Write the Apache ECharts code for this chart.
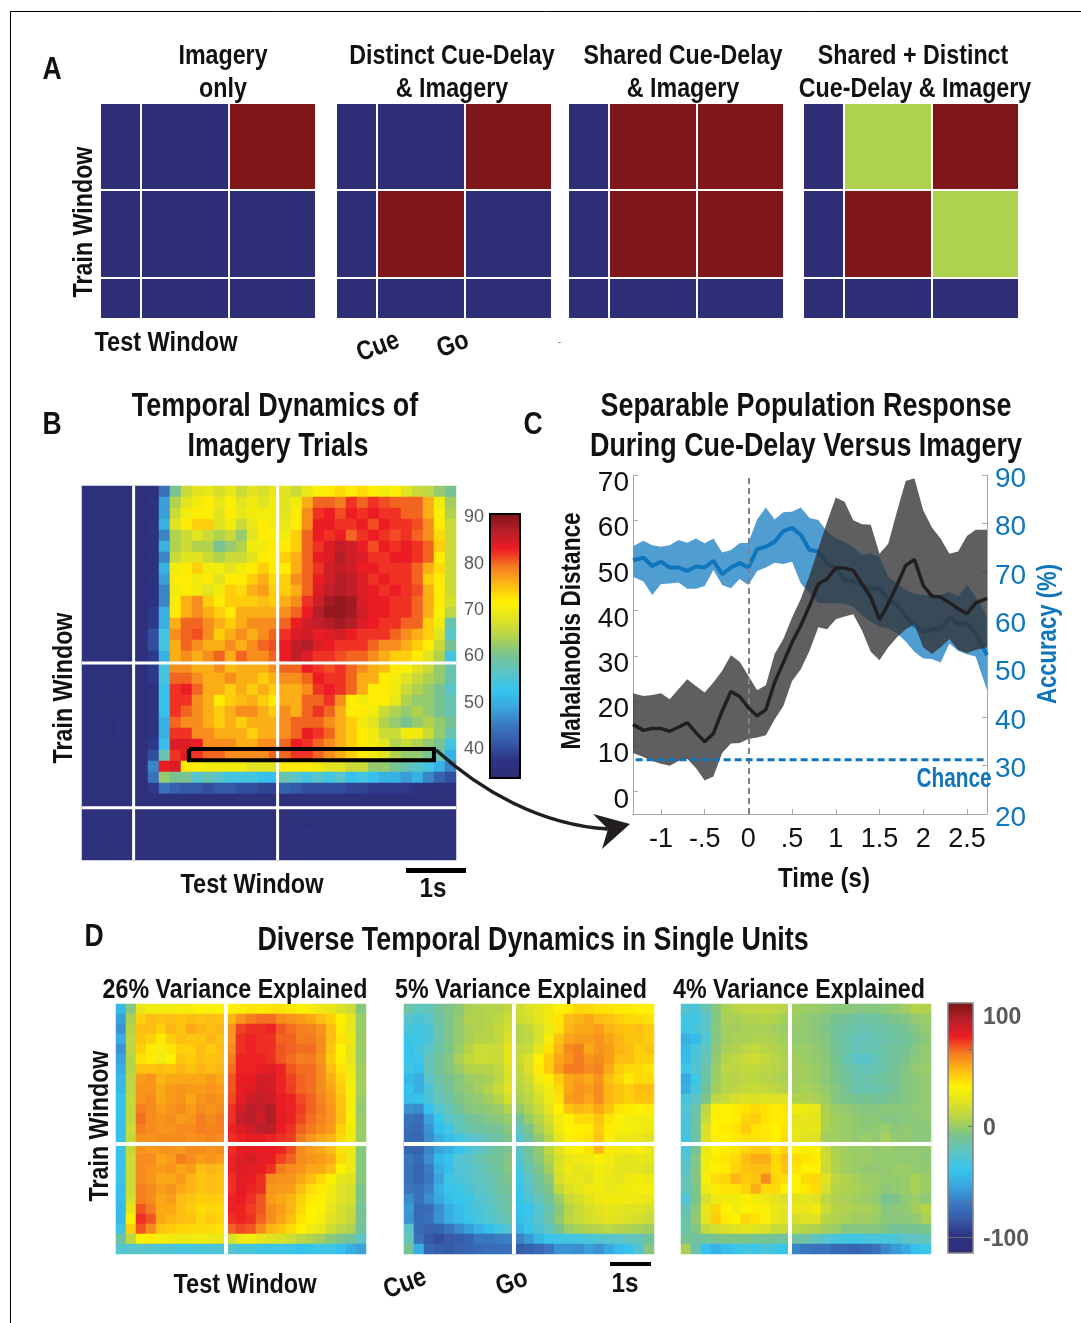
<!DOCTYPE html>
<html>
<head>
<meta charset="utf-8">
<title>Temporal dynamics</title>
<style>
	html, body { margin: 0; padding: 0; background: #fff; }
	#chart { width: 1081px; height: 1323px; }
</style>
<script src="https://cdn.jsdelivr.net/npm/echarts@6/dist/echarts.min.js"></script>
</head>
<body>
<div id="chart"></div>
<script>
/* panel A: hypothesis tables, 0 navy / 1 dark red / 2 green */
var windowColEdges = [0, 0.187, 0.598, 1];
var windowRowEdges = [0, 0.402, 0.813, 1];
var patternOnly = [[0, 0, 1], [0, 0, 0], [0, 0, 0]];
var patternDistinct = [[0, 0, 1], [0, 1, 0], [0, 0, 0]];
var patternShared = [[0, 1, 1], [0, 1, 1], [0, 0, 0]];
var patternBoth = [[0, 2, 1], [0, 1, 2], [0, 0, 0]];

/* panel B: accuracy, train (rows) by test (columns) */
var imageryAccuracy = [
	[35,35,35,35,35,35,36,44,60,66,68,69,67,69,66,68,67,69,68,66,69,71,72,73,72,73,72,70,71,68,66,65,62,60],
	[35,35,35,35,35,35,37,48,64,68,70,72,69,71,68,70,68,70,68,70,76,80,80,79,82,80,82,81,80,80,80,76,70,63],
	[35,35,35,35,35,35,36,48,66,70,72,71,68,72,69,70,70,70,68,72,78,82,83,81,83,82,83,82,82,80,80,76,71,64],
	[35,35,35,35,35,35,37,50,68,72,74,74,68,70,66,69,72,70,69,72,78,83,83,82,82,83,81,83,82,82,81,78,72,66],
	[35,35,35,35,35,35,37,46,64,66,68,66,64,66,62,68,72,71,70,74,80,83,82,83,80,82,83,82,81,82,80,78,73,66],
	[35,35,35,35,35,36,36,50,64,66,64,64,60,62,64,70,70,72,72,74,80,82,84,86,85,83,81,83,82,83,82,80,74,66],
	[35,35,35,35,35,35,37,46,66,68,68,66,64,66,66,68,72,72,74,76,80,83,84,87,85,84,82,82,83,83,82,80,72,66],
	[35,35,35,35,35,35,36,50,70,72,74,70,70,68,70,72,74,72,72,76,80,82,85,86,85,83,83,82,82,82,80,76,73,66],
	[35,35,35,35,35,35,37,48,72,72,70,72,68,72,72,74,76,73,74,78,80,83,85,87,86,84,82,83,82,82,80,74,72,66],
	[35,35,35,35,35,36,37,46,70,72,70,68,70,74,73,76,77,74,74,76,80,84,86,87,86,84,83,82,83,82,81,76,72,66],
	[35,35,35,35,35,35,37,46,72,76,78,74,72,74,74,74,75,74,76,78,82,85,88,89,88,84,83,83,82,82,80,76,72,67],
	[35,35,35,35,35,35,38,50,72,76,78,76,74,72,76,76,76,76,78,80,83,87,89,89,88,85,83,83,82,82,80,76,71,65],
	[35,35,35,35,35,35,38,50,76,80,80,78,76,74,76,78,78,78,80,83,85,86,87,88,87,84,83,82,82,80,80,74,70,58],
	[35,35,35,35,35,36,40,54,78,80,81,78,74,76,78,76,78,80,82,84,85,83,84,85,83,82,82,82,80,78,76,74,68,56],
	[36,35,35,35,35,35,40,54,76,80,78,76,76,78,76,78,80,81,83,86,87,84,83,82,82,82,80,78,78,76,74,72,66,60],
	[35,35,35,35,35,35,38,50,76,78,76,78,80,76,80,78,78,80,83,86,84,82,82,81,80,80,78,76,74,74,72,68,64,54],
	[35,35,35,35,35,35,38,54,78,78,76,76,78,75,76,76,76,78,80,80,83,82,81,82,80,78,76,75,72,71,68,66,62,58],
	[35,35,35,35,35,35,38,54,80,80,78,76,76,78,76,76,74,76,78,78,80,83,82,82,80,76,76,72,70,68,66,64,62,58],
	[35,35,35,36,35,35,37,52,82,83,80,76,76,74,76,74,76,74,76,76,78,82,83,82,80,76,72,72,70,66,64,62,60,56],
	[35,35,35,35,35,35,37,52,82,82,78,76,72,74,75,76,74,72,76,76,80,80,82,78,72,70,72,72,69,64,62,62,60,58],
	[35,35,35,35,35,35,37,52,82,80,78,76,74,76,78,78,76,74,78,76,80,82,80,76,72,72,70,66,64,62,64,62,60,58],
	[35,35,35,37,35,35,37,50,80,78,78,76,74,76,74,76,76,76,78,80,80,80,78,76,74,70,68,64,62,60,62,64,62,60],
	[35,35,35,37,35,35,37,50,82,82,78,78,76,76,76,74,76,76,78,80,83,82,80,76,74,72,70,66,66,70,70,66,62,58],
	[35,35,35,35,35,35,38,52,84,84,83,78,78,78,76,76,78,78,80,83,82,80,78,76,74,72,70,68,64,66,64,62,60,54],
	[35,35,35,35,35,35,40,58,82,84,82,80,80,78,78,78,78,80,80,82,82,80,78,76,74,72,70,68,64,62,62,60,58,50],
	[35,35,35,35,35,35,46,83,84,72,72,70,70,70,70,68,68,68,72,72,72,70,68,68,66,66,62,62,60,58,56,54,50,46],
	[35,35,35,35,35,35,44,62,60,60,56,58,56,54,54,54,52,52,58,56,54,56,54,56,52,54,52,50,50,48,50,46,42,40],
	[35,35,35,35,35,35,38,44,42,41,41,40,41,41,40,40,39,39,42,41,40,40,40,40,39,39,38,38,38,38,37,36,35,35],
	[35,35,35,35,35,35,35,35,35,35,35,35,35,35,35,35,35,35,35,35,35,35,35,35,35,35,35,35,35,35,35,35,35,35],
	[35,35,35,35,35,35,35,35,36,35,35,35,35,35,35,35,35,35,35,35,36,35,35,35,35,35,35,35,35,35,35,35,35,35],
	[35,35,36,35,35,35,35,35,35,35,35,35,35,35,35,35,35,35,35,35,35,35,35,35,35,35,35,35,35,35,35,35,35,35],
	[35,35,35,35,35,35,35,35,35,35,35,35,35,35,35,35,35,35,35,35,37,35,35,35,35,35,35,35,35,35,35,35,35,35],
	[35,35,35,36,35,35,35,35,35,35,35,35,35,35,35,35,35,35,35,35,35,35,35,35,35,35,35,35,35,35,35,35,35,35],
	[35,35,35,35,35,35,35,35,35,35,35,35,35,35,35,35,35,35,35,35,35,35,35,35,35,35,35,35,35,35,35,35,35,35]
];
var imageryColEdges = [0.138, 0.523];
var imageryRowEdges = [0.473, 0.86];
var boxCols = [0.286, 0.941];
var boxRows = [0.703, 0.733];
var imageryTicks = [40, 50, 60, 70, 80, 90];

/* panel C */
var timeSec = [-1.32,-1.2,-1.1,-1,-0.9,-0.8,-0.7,-0.6,-0.5,-0.4,-0.3,-0.2,-0.1,0,0.1,0.2,0.3,0.4,0.5,0.6,0.7,0.8,0.9,1,1.1,1.2,1.3,1.4,1.5,1.6,1.7,1.8,1.9,2,2.1,2.2,2.3,2.4,2.5,2.6,2.73];
var distMean = [14.8,13.5,13.9,13.9,13.3,14.2,15.2,13,11,12.8,17.8,22.1,21,18.5,16.7,18.1,24.1,28.5,33,36.7,41.1,45.9,47,49.4,49.4,48.9,45.9,43,38,41.5,45.6,50,51.3,45.6,43.2,43,41.7,40.4,39.3,41.7,42.7];
var distUpper = [21.7,21.1,21.3,21.7,20.4,22.6,24.8,23.3,21.9,24.1,26.7,30.1,28.7,25.6,22.4,23.5,30.4,33.7,38.5,42.6,47.8,53.7,59.6,65,64.1,60,59.1,59,52.6,54.8,61.9,68.7,69.3,62.2,58.4,55.9,52.6,53.1,56.5,57.9,57.9];
var distLower = [8.5,7.6,6.7,6.1,5.7,6.7,7.2,5.2,2.4,3.3,8.5,10.6,10.7,11.6,11.9,12.4,15.9,18.9,24.4,27,31.1,36.3,35.9,38.1,38.7,39.2,35.6,30.9,29,31.9,34.1,35.9,36.9,31.9,30.4,31.9,33.7,31.3,30.6,31.3,31.9];
var accMean = [72.4,72.9,71.2,72.1,70.9,70.9,70.2,71.1,70.9,72.3,69.5,70.9,71.8,70.9,74.7,75.2,76.2,78.4,79.1,77.6,74.5,74.2,71.8,70.7,68.5,68,67.3,66.4,66.6,64.2,63.2,60.8,58.9,57.7,58.1,58.3,60.6,59.2,59.4,57.3,52.8];
var accUpper = [75.3,76.4,75.5,75.2,75.5,76.6,76,76.9,75.9,76.9,74,74.5,75.9,76,80.8,83.3,80.8,82.3,82.4,83.3,81.1,80.7,78.3,76.9,76.2,75.1,73.5,73.8,73.1,69,67.6,66.3,65.4,65.2,65.2,65.2,65.9,64.9,67.3,64.9,60.8];
var accLower = [69,68,65.2,67.5,67.6,67.8,66.5,66.5,67.1,70.4,67.3,66.6,68.5,67.3,70.2,70.9,71.9,71.6,72.1,67.6,65.6,63.5,63.5,63.5,63.4,62.8,61.1,59.7,58.7,58.3,57.3,55.6,53.5,52.1,52,51.3,55.2,53.7,53,52.5,45.6];
var chanceLevel = 31.2;
var distTicks = [0, 10, 20, 30, 40, 50, 60, 70];
var timeTicks = [-1, -0.5, 0, 0.5, 1, 1.5, 2, 2.5];
var timeTickLabels = ['-1', '-.5', '0', '.5', '1', '1.5', '2', '2.5'];

/* panel D: three components, percent of peak */
var unit26 = [
	[-45,-5,25,30,30,30,32,32,35,33,35,35,38,40,38,40,40,38,35,32,28,25,20,15,-5],
	[-55,5,45,50,48,50,48,50,48,50,48,52,60,65,68,68,62,60,58,55,50,45,35,25,0],
	[-60,8,50,50,45,52,48,55,52,50,52,60,75,78,78,80,72,68,65,64,60,50,38,25,0],
	[-50,10,48,45,38,45,50,48,48,52,48,60,78,80,78,78,70,70,65,66,62,50,40,28,0],
	[-60,10,45,38,32,40,45,45,50,46,50,62,78,80,78,78,72,70,68,68,62,48,36,25,0],
	[-55,8,40,38,30,36,48,46,50,48,50,65,80,80,80,78,72,68,65,66,60,46,34,25,0],
	[-50,8,48,48,50,48,52,48,52,50,52,68,80,80,82,84,80,72,68,68,62,50,40,28,2],
	[-45,10,58,60,52,55,55,55,55,58,55,72,82,82,88,88,80,75,70,68,62,54,44,30,2],
	[-45,10,60,60,55,58,60,58,58,60,58,72,82,85,90,88,80,76,70,68,62,56,46,32,2],
	[-40,12,60,62,55,58,60,55,60,62,60,74,84,90,92,90,82,80,74,70,64,58,48,32,0],
	[-40,12,65,62,58,60,62,58,62,60,62,78,88,95,92,98,82,80,76,70,66,60,48,32,-2],
	[-40,12,68,62,60,62,58,60,65,62,65,78,92,95,90,98,84,80,74,68,64,60,50,34,0],
	[-42,15,65,62,60,60,62,62,65,64,65,80,85,90,95,95,82,78,70,66,62,58,45,30,0],
	[-40,12,60,60,62,62,62,60,62,64,62,78,80,82,82,80,78,76,66,60,55,52,42,30,0],
	[-40,12,60,58,60,60,58,62,62,60,62,78,82,84,82,82,80,74,62,58,55,50,40,28,-5],
	[-40,15,62,62,55,58,65,62,58,60,58,80,85,88,84,82,75,70,62,60,58,55,42,28,-5],
	[-40,15,62,60,58,60,55,58,50,52,50,80,85,84,82,78,66,62,60,55,55,50,35,28,-5],
	[-38,15,62,60,55,55,58,52,48,50,48,78,84,82,78,62,60,60,55,50,42,35,25,22,-5],
	[-42,15,65,62,58,60,55,52,48,50,48,78,84,80,78,60,58,58,50,42,38,30,22,18,-8],
	[-42,18,65,62,55,58,50,48,45,46,45,80,82,78,72,58,55,52,45,38,35,28,22,18,-8],
	[-45,25,72,66,55,55,50,46,42,44,42,80,80,76,72,62,58,52,42,36,35,25,18,14,-10],
	[-45,35,78,72,55,52,50,48,44,46,44,78,80,78,70,62,56,50,40,36,32,22,18,12,-10],
	[-35,45,72,62,48,46,44,42,42,42,40,70,74,72,62,52,48,42,36,30,26,16,10,6,-12],
	[-15,10,35,38,32,30,28,28,30,28,26,18,28,30,26,22,20,16,10,6,2,-4,-8,-12,-22],
	[-28,-26,-24,-26,-28,-30,-32,-32,-30,-30,-30,-25,-30,-32,-35,-35,-36,-36,-40,-38,-36,-36,-40,-50,-55]
];
var unit5 = [
	[-15,-22,-20,-12,-8,-4,4,6,8,8,12,15,20,24,28,34,38,44,42,40,40,38,38,36,36],
	[-25,-30,-25,-15,-8,-2,6,6,8,10,15,15,18,24,30,40,50,52,55,50,48,45,42,42,40],
	[-30,-35,-30,-15,-8,-2,4,6,8,12,18,8,12,18,28,40,52,55,55,58,52,50,48,50,46],
	[-36,-35,-30,-18,-8,-2,4,8,8,12,20,8,10,18,32,48,56,58,58,60,56,52,48,48,46],
	[-40,-32,-25,-15,-8,0,8,15,14,14,25,12,14,24,40,52,62,65,55,60,58,52,50,45,48],
	[-38,-36,-20,-12,-6,4,12,15,15,14,25,14,20,36,46,55,60,66,60,62,58,50,50,45,45],
	[-36,-42,-20,-12,-6,0,6,8,8,12,22,12,20,38,46,58,65,66,62,64,55,46,42,42,40],
	[-45,-50,-25,-15,-10,-5,0,2,4,10,20,10,16,30,38,46,55,58,55,60,50,44,38,42,42],
	[-40,-50,-30,-18,-12,-5,-2,2,8,14,22,8,12,22,30,42,55,60,58,62,52,48,45,50,50],
	[-42,-40,-30,-20,-15,-8,-4,-2,2,8,18,5,10,18,28,40,58,60,56,62,52,48,45,48,48],
	[-60,-62,-40,-28,-20,-12,-6,-4,-2,0,8,-2,6,14,24,36,48,52,50,55,48,40,38,35,38],
	[-72,-75,-55,-38,-25,-20,-14,-10,-6,-4,0,-12,0,8,18,30,36,42,42,48,40,34,32,30,30],
	[-74,-76,-60,-42,-35,-22,-16,-14,-12,-10,-4,-20,-8,4,14,28,36,36,38,46,38,32,32,30,28],
	[-76,-78,-62,-50,-42,-34,-28,-24,-18,-14,-8,-28,-14,-2,8,24,34,38,40,48,34,28,28,26,22],
	[-78,-80,-65,-55,-50,-40,-32,-24,-18,-12,-8,-24,-12,-2,10,22,32,36,40,52,38,30,30,34,28],
	[-70,-76,-62,-45,-40,-28,-24,-18,-14,-12,-6,-28,-14,-4,6,18,26,28,30,34,30,26,24,26,24],
	[-72,-78,-68,-50,-42,-28,-26,-22,-16,-12,-6,-34,-18,-8,2,20,28,24,26,30,28,24,24,24,20],
	[-72,-78,-70,-55,-36,-30,-28,-22,-20,-14,-8,-36,-24,-12,-4,18,24,26,22,30,26,24,28,30,28],
	[-70,-72,-66,-48,-38,-36,-30,-24,-22,-14,-10,-38,-26,-14,-8,12,20,24,28,30,26,28,30,32,32],
	[-62,-72,-62,-52,-42,-38,-36,-28,-24,-18,-14,-40,-30,-20,-12,0,14,18,24,28,30,30,30,28,26],
	[-58,-76,-74,-62,-50,-42,-36,-30,-26,-20,-14,-40,-38,-28,-18,-4,8,14,18,22,26,24,22,22,18],
	[-60,-76,-72,-60,-50,-44,-38,-32,-28,-22,-16,-42,-36,-26,-16,-2,10,14,18,20,24,22,20,18,14],
	[-25,-76,-80,-78,-70,-62,-56,-48,-42,-34,-28,-48,-38,-30,-22,-10,0,4,6,8,10,8,6,4,2],
	[-20,-72,-84,-88,-84,-82,-78,-70,-70,-68,-66,-66,-58,-46,-38,-36,-34,-32,-30,-28,-26,-24,-22,-20,-12],
	[-10,-50,-78,-82,-84,-80,-78,-76,-74,-74,-72,-82,-80,-76,-70,-60,-60,-62,-56,-60,-52,-44,-38,-28,-5]
];
var unit4 = [
	[-28,-30,-18,-5,5,8,10,10,12,10,8,2,0,0,-2,-4,-4,-6,-6,-6,-4,-2,2,8,6],
	[-34,-34,-24,-6,4,4,6,6,8,6,2,0,-2,-4,-6,-10,-12,-14,-14,-14,-10,-8,-6,-2,0],
	[-36,-30,-24,-5,2,2,4,4,4,2,0,-2,-2,-4,-8,-12,-14,-16,-18,-16,-14,-12,-10,-6,-2],
	[-48,-44,-28,-6,2,4,4,6,6,4,2,-2,-2,-4,-6,-12,-16,-20,-20,-18,-16,-14,-12,-8,-4],
	[-44,-32,-22,-4,4,6,10,12,8,6,4,0,0,-2,-6,-10,-16,-20,-18,-18,-14,-12,-10,-6,-2],
	[-44,-30,-20,-2,8,10,14,16,12,8,6,2,0,-2,-4,-10,-18,-24,-26,-20,-14,-12,-8,-4,-2],
	[-36,-28,-16,0,10,10,12,12,10,8,6,2,2,0,-4,-8,-14,-18,-20,-18,-14,-10,-6,-2,0],
	[-52,-36,-14,0,8,8,10,10,8,6,4,2,2,0,-4,-8,-12,-18,-16,-14,-12,-10,-6,-4,-2],
	[-50,-32,-12,2,8,10,12,14,12,10,8,2,4,2,-2,-6,-10,-16,-18,-16,-14,-10,-6,-4,-2],
	[-30,-24,-8,10,14,18,20,20,22,20,22,6,6,4,0,-6,-8,-10,-10,-12,-10,-8,-6,-4,-2],
	[-28,-16,10,34,36,38,40,42,40,38,40,30,28,26,4,0,-2,-4,-6,-6,-4,-4,-4,-2,-2],
	[-30,-14,14,34,36,38,44,46,40,38,38,24,26,24,6,2,0,-2,-4,-4,-6,-6,-4,-4,-2],
	[-30,-14,20,36,38,40,46,40,38,36,40,26,24,26,4,2,0,-2,-4,-2,0,-4,-2,-4,-4],
	[-34,-14,20,34,36,38,40,40,38,36,42,24,22,20,2,2,0,-2,0,-2,4,-2,-2,-4,-4],
	[-30,-10,26,36,38,40,44,46,46,40,44,36,34,34,14,4,2,0,0,-2,0,-2,-2,-2,-2],
	[-26,-6,30,38,40,42,50,54,54,44,50,42,40,38,16,6,2,0,0,-2,-2,-2,-2,-2,-4],
	[-24,-6,30,36,38,44,48,50,50,42,48,40,36,36,14,6,2,0,-2,-2,-2,0,0,-2,-2],
	[-20,-6,32,42,44,52,46,48,62,44,42,36,42,44,22,10,6,4,0,0,-2,-2,0,4,0],
	[-20,-8,28,38,40,40,44,54,42,42,36,36,38,42,18,8,6,4,2,0,-4,-2,0,4,0],
	[-28,-8,18,28,30,30,34,30,28,24,18,22,24,22,10,6,4,2,0,-2,-10,-8,-2,0,-4],
	[-20,-4,26,44,36,30,36,34,32,26,24,26,26,30,14,8,6,4,4,2,-6,-4,-2,2,8],
	[-16,-2,24,46,38,36,44,40,34,26,22,18,22,22,8,6,4,2,2,0,-4,-4,-4,-2,4],
	[-16,-6,12,18,20,22,24,22,20,14,14,10,8,6,2,0,-6,-6,-6,-6,-8,-12,-10,-10,-8],
	[-10,-14,-12,-10,-8,-8,-8,-10,-10,-12,-12,-14,-14,-22,-28,-32,-34,-36,-30,-32,-32,-30,-24,-22,-20],
	[4,-18,-40,-48,-42,-38,-34,-36,-30,-36,-38,-65,-70,-72,-72,-76,-76,-78,-76,-72,-64,-58,-52,-40,-36]
];
var unitColEdges = [[0.44], [0.44], [0.436]];
var unitRowEdges = [0.56];
var unitTickLabels = [-100, 0, 100];
var unitTickMarks = [-100, -68, 0, 69];

var jetColors = ['#2d2e75','#2d3284','#345aa8','#3a78c0','#3aa6dd','#35c5ee','#5cc4c8','#79c38f','#b0d24e','#dfe224','#fff200','#fdb913','#f47b20','#ed1c24','#b71f29','#7f1416'];
var patternColors = ['#2d2e75', '#7f1619', '#acd24e'];

var NARROW = '"Liberation Sans",Arial,sans-serif';
var ARIAL = '"Liberation Sans",Arial,sans-serif';
var BLUE = '#0f75bc';

var grids = [], xAxes = [], yAxes = [], series = [], visualMaps = [], graphics = [];

function hiddenAxis(type, g, extra) {
	var a = { type: type, gridIndex: g, show: false };
	for (var k in extra) a[k] = extra[k];
	return a;
}

function unitAxes(g) {
	xAxes.push(hiddenAxis('value', g, { min: 0, max: 1 }));
	yAxes.push(hiddenAxis('value', g, { min: 0, max: 1, inverse: true }));
}

function whiteLines(xi, yi, colFracs, rowFracs, width) {
	colFracs.forEach(function (f) {
		series.push(rule(xi, yi, [[f, 0], [f, 1]], '#fff', width));
	});
	rowFracs.forEach(function (f) {
		series.push(rule(xi, yi, [[0, f], [1, f]], '#fff', width));
	});
}

function rule(xi, yi, pts, color, width) {
	return {
		type: 'line', xAxisIndex: xi, yAxisIndex: yi, data: pts, symbol: 'none', silent: true, z: 6,
		lineStyle: { color: color, width: width, cap: 'butt', join: 'miter' }
	};
}

/* one heat panel + hidden 0..1 axes on the same grid for the rules */
function addHeat(rect, rows, colFracs, rowFracs, lineWidth) {
	var g = grids.length;
	grids.push({ left: rect[0], top: rect[1], width: rect[2], height: rect[3] });
	var cols = rows[0].map(function (v, i) { return i; });
	var rowIds = rows.map(function (v, i) { return i; });
	var data = [];
	rows.forEach(function (row, j) {
		row.forEach(function (v, i) { data.push([i, j, v]); });
	});
	xAxes.push(hiddenAxis('category', g, { data: cols }));
	yAxes.push(hiddenAxis('category', g, { data: rowIds, inverse: true }));
	series.push({ type: 'heatmap', xAxisIndex: xAxes.length - 1, yAxisIndex: yAxes.length - 1, data: data, silent: true, z: 2 });
	var heatIndex = series.length - 1;
	unitAxes(g);
	whiteLines(xAxes.length - 1, yAxes.length - 1, colFracs, rowFracs, lineWidth);
	return heatIndex;
}

function addPattern(rect, pattern) {
	var g = grids.length;
	grids.push({ left: rect[0], top: rect[1], width: rect[2], height: rect[3] });
	unitAxes(g);
	var cells = [];
	pattern.forEach(function (row, j) {
		row.forEach(function (state, i) {
			cells.push([windowColEdges[i], windowColEdges[i + 1], windowRowEdges[j], windowRowEdges[j + 1], state]);
		});
	});
	series.push({
		type: 'custom', xAxisIndex: xAxes.length - 1, yAxisIndex: yAxes.length - 1, data: cells, silent: true,
		encode: { x: [0, 1], y: [2, 3] },
		renderItem: function (params, api) {
			var a = api.coord([api.value(0), api.value(2)]);
			var b = api.coord([api.value(1), api.value(3)]);
			return { type: 'rect', shape: { x: a[0], y: a[1], width: b[0] - a[0], height: b[1] - a[1] },
				style: { fill: patternColors[api.value(4)] } };
		}
	});
	whiteLines(xAxes.length - 1, yAxes.length - 1, windowColEdges.slice(1, 3), windowRowEdges.slice(1, 3), 2);
}

/* panel A */
addPattern([101, 104, 214, 214], patternOnly);
addPattern([337, 104, 214, 214], patternDistinct);
addPattern([569, 104, 214, 214], patternShared);
addPattern([804, 104, 214, 214], patternBoth);

/* panel B, whole pixels per cell so no seams show in the navy */
var heatB = addHeat([82, 486, 374, 374], imageryAccuracy, imageryColEdges, imageryRowEdges, 3);
series.push(rule(xAxes.length - 1, yAxes.length - 1,
	[[boxCols[0], boxRows[0]], [boxCols[1], boxRows[0]], [boxCols[1], boxRows[1]], [boxCols[0], boxRows[1]], [boxCols[0], boxRows[0]]],
	'#000', 4));

visualMaps.push({
	type: 'continuous', seriesIndex: heatB, min: 33.5, max: 90.5, left: 490, top: 514, itemWidth: 30, itemHeight: 264,
	padding: 0, text: null, calculable: false, realtime: false, showLabel: false, inRange: { color: jetColors }
});
grids.push({ left: 490, top: 514, width: 30, height: 264 });
xAxes.push(hiddenAxis('value', grids.length - 1, { min: 0, max: 1 }));
yAxes.push({
	type: 'value', gridIndex: grids.length - 1, min: 33.5, max: 90.5, position: 'left',
	axisLine: { show: false, onZero: false }, axisTick: { show: false }, splitLine: { show: false },
	axisLabel: { customValues: imageryTicks, color: '#58595b', fontFamily: ARIAL, fontSize: 18, margin: 6, verticalAlign: 'top', lineHeight: 2 }
});

/* panel C */
var gC = grids.length;
grids.push({ left: 633, top: 475, width: 354, height: 339 });
xAxes.push({
	type: 'value', gridIndex: gC, min: -1.32, max: 2.73,
	axisLine: { onZero: false, lineStyle: { color: '#a6a8ab' } },
	axisTick: { inside: true, length: 5, customValues: timeTicks, lineStyle: { color: '#a6a8ab' } },
	splitLine: { show: false },
	axisLabel: {
		customValues: timeTicks, color: '#111', fontFamily: ARIAL, fontSize: 27, margin: 12,
		formatter: function (v) { return timeTickLabels[timeTicks.indexOf(v)]; }
	}
});
var xC = xAxes.length - 1;
yAxes.push({
	type: 'value', gridIndex: gC, position: 'left', min: -5, max: 70,
	axisLine: { show: true, onZero: false, lineStyle: { color: '#a6a8ab' } },
	axisTick: { show: true, inside: true, length: 5, customValues: distTicks, lineStyle: { color: '#a6a8ab' } },
	splitLine: { show: false },
	axisLabel: { customValues: distTicks, color: '#111', fontFamily: ARIAL, fontSize: 28, margin: 4, verticalAlign: 'top', lineHeight: 17 }
});
var yDist = yAxes.length - 1;
yAxes.push({
	type: 'value', gridIndex: gC, position: 'right', min: 20, max: 90, interval: 10,
	axisLine: { show: true, onZero: false, lineStyle: { color: '#a6a8ab' } },
	axisTick: { show: true, inside: true, length: 5, lineStyle: { color: '#a6a8ab' } },
	splitLine: { show: false },
	axisLabel: { color: BLUE, fontFamily: ARIAL, fontSize: 28, margin: 8, verticalAlign: 'top', lineHeight: 8 }
});
var yAcc = yAxes.length - 1;

function pairs(vals) {
	return vals.map(function (v, i) { return [timeSec[i], v]; });
}
/* shaded band: one polygon, drawn on the first item */
function band(yi, lower, upper, fill, z) {
	series.push({
		type: 'custom', xAxisIndex: xC, yAxisIndex: yi, silent: true, z: z, clip: true,
		data: timeSec.map(function (t, i) { return [t, lower[i], upper[i]]; }),
		encode: { x: 0, y: [1, 2] },
		renderItem: function (params, api) {
			if (params.dataIndex !== 0) return null;
			var top = [], bottom = [];
			timeSec.forEach(function (t, i) {
				top.push(api.coord([t, upper[i]]));
				bottom.unshift(api.coord([t, lower[i]]));
			});
			return { type: 'polygon', shape: { points: top.concat(bottom) }, style: { fill: fill } };
		}
	});
}
band(yAcc, accLower, accUpper, '#4f9dd1', 2);
series.push({ type: 'line', xAxisIndex: xC, yAxisIndex: yAcc, symbol: 'none', silent: true, z: 3,
	lineStyle: { color: BLUE, width: 4 }, data: pairs(accMean) });
band(yDist, distLower, distUpper, 'rgba(50,50,52,0.78)', 4);
series.push({
	type: 'line', xAxisIndex: xC, yAxisIndex: yDist, symbol: 'none', silent: true, z: 5,
	lineStyle: { color: '#231f20', width: 3.5 }, data: pairs(distMean),
	markLine: {
		silent: true, symbol: 'none', label: { show: false }, animation: false,
		lineStyle: { color: '#808285', width: 2, type: [6, 4] },
		data: [{ xAxis: 0 }]
	}
});
series.push({
	type: 'line', xAxisIndex: xC, yAxisIndex: yAcc, symbol: 'none', silent: true, z: 6,
	lineStyle: { color: BLUE, width: 3, type: [7, 4] },
	data: [[timeSec[0] + 0.03, chanceLevel], [timeSec[timeSec.length - 1], chanceLevel]]
});

/* panel D */
var heatD = [
	addHeat([116, 1004, 250, 250], unit26, unitColEdges[0], unitRowEdges, 4),
	addHeat([404, 1004, 250, 250], unit5, unitColEdges[1], unitRowEdges, 4),
	addHeat([681, 1004, 250, 250], unit4, unitColEdges[2], unitRowEdges, 4)
];
visualMaps.push({
	type: 'continuous', seriesIndex: heatD, min: -114, max: 111, left: 948, top: 1003, itemWidth: 25, itemHeight: 250,
	padding: 0, text: null, calculable: false, realtime: false, showLabel: false, inRange: { color: jetColors }
});
grids.push({ left: 948, top: 1003, width: 25, height: 250 });
xAxes.push(hiddenAxis('value', grids.length - 1, { min: 0, max: 1 }));
yAxes.push({
	type: 'value', gridIndex: grids.length - 1, min: -114, max: 111, position: 'right',
	axisLine: { show: false, onZero: false }, splitLine: { show: false }, axisTick: { show: false },
	axisLabel: { customValues: unitTickLabels, color: '#58595b', fontFamily: ARIAL, fontWeight: 'bold', fontSize: 23, margin: 10, verticalAlign: 'top', lineHeight: 4 }
});
unitTickMarks.forEach(function (v) {
	series.push(rule(xAxes.length - 1, yAxes.length - 1, [[v === -100 ? 0 : 0.8, v], [1, v]], '#6d6e71', 1));
});

/* text and annotations; the narrow bold type of the figure is not installed, so squeeze it */
function label(str, x, y, size, opts) {
	opts = opts || {};
	graphics.push({
		type: 'text', x: x + (opts.rot ? 2 : 0), y: y + (opts.rot ? 0 : 2), rotation: opts.rot || 0,
		scaleX: opts.squeeze || 0.83, z: 100, silent: true,
		style: {
			text: str, fill: opts.color || '#111',
			font: 'bold ' + size + 'px ' + NARROW,
			align: 'center', verticalAlign: 'middle', textAlign: 'center', textVerticalAlign: 'middle'
		}
	});
}
function stroke(x1, y1, x2, y2, width, color) {
	graphics.push({ type: 'line', z: 100, silent: true, shape: { x1: x1, y1: y1, x2: x2, y2: y2 }, style: { stroke: color || '#000', lineWidth: width } });
}

stroke(10, 11.5, 1081, 11.5, 1);
stroke(10.5, 11, 10.5, 1323, 1);
stroke(558, 342.5, 561, 342.5, 1, '#999');

label('A', 52, 68, 32);
label('B', 52, 423, 32);
label('C', 533, 423, 32);
label('D', 94, 935, 32);

label('Imagery', 223, 54, 28);
label('only', 223, 87, 28);
label('Distinct Cue-Delay', 452, 54, 28);
label('& Imagery', 452, 87, 28);
label('Shared Cue-Delay', 683, 54, 28);
label('& Imagery', 683, 87, 28);
label('Shared + Distinct', 913, 54, 28);
label('Cue-Delay & Imagery', 915, 87, 28);
label('Train Window', 82, 222, 28, { rot: Math.PI / 2 });
label('Test Window', 166, 341, 28, { squeeze: 0.84 });
label('Cue', 376, 347, 27, { rot: 0.35, squeeze: 0.85 });
label('Go', 451, 345, 27, { rot: 0.35, squeeze: 0.85 });

label('Temporal Dynamics of', 275, 405, 33, { squeeze: 0.815 });
label('Imagery Trials', 278, 445, 33, { squeeze: 0.815 });
label('Train Window', 62, 688, 28, { rot: Math.PI / 2 });
label('Test Window', 252, 883, 28, { squeeze: 0.84 });
label('1s', 433, 888, 27, { squeeze: 0.9 });
stroke(406, 870.5, 466, 870.5, 5);

label('Separable Population Response', 806, 405, 33, { squeeze: 0.815 });
label('During Cue-Delay Versus Imagery', 806, 445, 33, { squeeze: 0.815 });
label('Mahalanobis Distance', 570, 631, 28, { rot: Math.PI / 2, squeeze: 0.806 });
label('Accuracy (%)', 1046, 634, 28, { rot: Math.PI / 2, color: BLUE, squeeze: 0.79 });
label('Time (s)', 824, 877, 28, { squeeze: 0.86 });
label('Chance', 954, 778, 27, { color: BLUE, squeeze: 0.77 });

label('Diverse Temporal Dynamics in Single Units', 533, 939, 33, { squeeze: 0.813 });
label('26% Variance Explained', 235, 988, 28);
label('5% Variance Explained', 521, 988, 28);
label('4% Variance Explained', 799, 988, 28);
label('Train Window', 98, 1126, 28, { rot: Math.PI / 2 });
label('Test Window', 245, 1283, 28, { squeeze: 0.84 });
label('Cue', 403, 1284, 27, { rot: 0.35, squeeze: 0.85 });
label('Go', 510, 1283, 27, { rot: 0.35, squeeze: 0.85 });
label('1s', 625, 1283, 27, { squeeze: 0.9 });
stroke(610, 1264, 651, 1264, 4);

/* colour bar frames */
graphics.push({ type: 'rect', z: 100, silent: true, shape: { x: 490, y: 514, width: 30, height: 264 }, style: { fill: 'none', stroke: '#000', lineWidth: 2 } });
graphics.push({ type: 'rect', z: 100, silent: true, shape: { x: 948, y: 1003, width: 25, height: 250 }, style: { fill: 'none', stroke: '#808285', lineWidth: 1.5 } });

/* arrow B to C */
graphics.push({
	type: 'bezierCurve', z: 100, silent: true,
	shape: { x1: 436, y1: 750, cpx1: 480, cpy1: 790, cpx2: 540, cpy2: 825, x2: 608, y2: 829 },
	style: { fill: 'none', stroke: '#231f20', lineWidth: 3.5 }
});
graphics.push({
	type: 'polygon', z: 100, silent: true,
	shape: { points: [[630, 824], [593, 814], [608, 829], [602, 849]] },
	style: { fill: '#231f20' }
});

var chart = echarts.init(document.getElementById('chart'), null, { renderer: 'canvas' });
chart.setOption({
	animation: false,
	backgroundColor: '#fff',
	grid: grids,
	xAxis: xAxes,
	yAxis: yAxes,
	visualMap: visualMaps,
	series: series,
	graphic: graphics
});
</script>
</body>
</html>
